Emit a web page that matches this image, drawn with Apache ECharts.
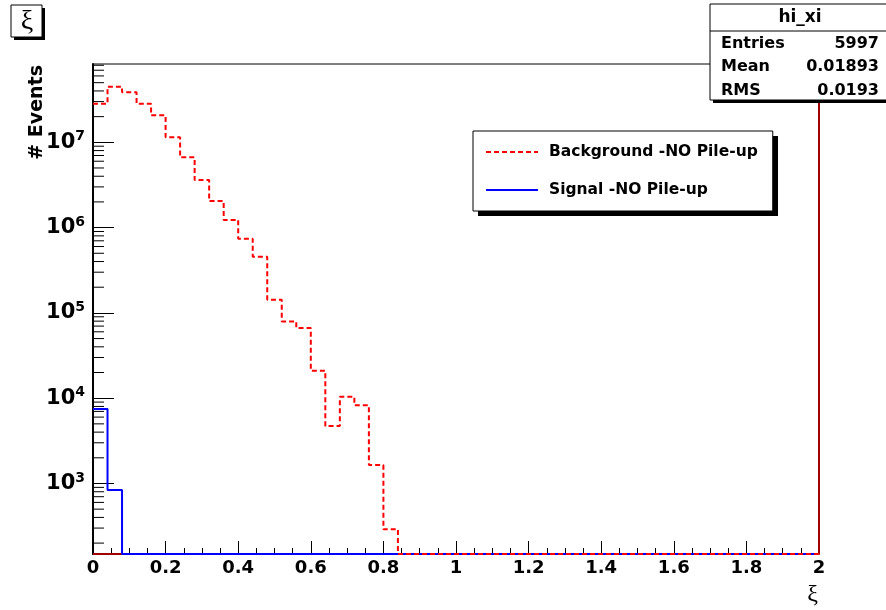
<!DOCTYPE html>
<html>
<head>
<meta charset="utf-8">
<script src="https://cdn.jsdelivr.net/npm/echarts@6/dist/echarts.min.js"></script>
<style>
html,body{margin:0;padding:0;background:#ffffff;}
#chart{width:886px;height:610px;}
</style>
</head>
<body>
<div id="chart"></div>
<script>
// ---- data ----
const BIN_LOW = 0;
const BIN_WIDTH = 0.04;
const N_BINS = 50;

// Background -NO Pile-up (red dashed), bin contents for bins 0..49
const backgroundValues = [
  2.83e7, 4.49e7, 3.85e7, 2.83e7, 2.07e7, 1.145e7, 6.67e6, 3.61e6, 2.05e6, 1.23e6,
  7.41e5, 4.56e5, 1.43e5, 7.93e4, 6.65e4, 2.10e4, 4.72e3, 1.04e4, 8.26e3, 1.65e3,
  290, 0, 0, 0, 0, 0, 0, 0, 0, 0,
  0, 0, 0, 0, 0, 0, 0, 0, 0, 0,
  0, 0, 0, 0, 0, 0, 0, 0, 0, 0
];
// Signal -NO Pile-up (blue)
const signalValues = [
  7460, 840, 0, 0, 0, 0, 0, 0, 0, 0,
  0, 0, 0, 0, 0, 0, 0, 0, 0, 0,
  0, 0, 0, 0, 0, 0, 0, 0, 0, 0,
  0, 0, 0, 0, 0, 0, 0, 0, 0, 0,
  0, 0, 0, 0, 0, 0, 0, 0, 0, 0
];
const seriesNames = ['Background -NO Pile-up', 'Signal -NO Pile-up'];
const statsLabels = ['Entries', 'Mean', 'RMS'];
const statsValues = ['5997', '0.01893', '0.0193'];
const statsTitle = 'hi_xi';
const histTitle = '\u03be';
const xTitle = '\u03be';
const yTitle = '# Events';

const X_MIN = 0, X_MAX = 2;
const Y_MIN = 149, Y_MAX = 8.28e7;

// ---- helpers ----
function stepData(vals) {
  const pts = [];
  for (let i = 0; i <= N_BINS; i++) {
    const v = vals[Math.min(i, N_BINS - 1)];
    pts.push([BIN_LOW + i * BIN_WIDTH, v > 0 ? v : Y_MIN]);
  }
  return pts;
}
// log-axis minor tick positions (2..9 x 10^n)
const minorTicks = [];
for (let n = 1; n <= 8; n++) {
  for (let k = 2; k <= 9; k++) {
    const v = k * Math.pow(10, n);
    if (v > Y_MIN && v < Y_MAX) minorTicks.push([0, v]);
  }
}

const FONT = '"DejaVu Sans", sans-serif';
const SERIF = '"Liberation Serif", "DejaVu Serif", serif';

function shadowBox(x, y, w, h, off, z) {
  return [
    {type: 'rect', z: z, silent: true, shape: {x: x + off, y: y + off, width: w, height: h},
     style: {fill: '#000', stroke: null}},
    {type: 'rect', z: z + 1, silent: true, shape: {x: x, y: y, width: w, height: h},
     style: {fill: '#fff', stroke: '#000', lineWidth: 1}}
  ];
}
function txt(text, x, y, align, font, z) {
  return {type: 'text', z: z || 110, silent: true, x: x, y: y,
          style: {text: text, align: align, verticalAlign: 'middle', font: font, fill: '#000'}};
}

const chart = echarts.init(document.getElementById('chart'), null, {renderer: 'canvas'});
const option = {
  animation: false,
  backgroundColor: '#ffffff',
  grid: {left: 93, right: 67, top: 64, bottom: 56, show: true, borderColor: '#000', borderWidth: 1},
  xAxis: {
    type: 'value', min: X_MIN, max: X_MAX, interval: 0.2,
    axisLine: {show: true, onZero: false, lineStyle: {color: '#000', width: 1}},
    axisTick: {show: true, inside: true, length: 13, lineStyle: {color: '#000', width: 1}},
    minorTick: {show: true, splitNumber: 4, length: 6, lineStyle: {color: '#000', width: 1}},
    splitLine: {show: false},
    axisLabel: {color: '#000', fontFamily: FONT, fontWeight: 'bold', fontSize: 18, margin: 5}
  },
  yAxis: {
    type: 'log', logBase: 10, min: Y_MIN, max: Y_MAX,
    axisLine: {show: true, lineStyle: {color: '#000', width: 2}},
    axisTick: {show: true, inside: true, length: 21, lineStyle: {color: '#000', width: 1}},
    splitLine: {show: false},
    axisLabel: {
      showMinLabel: false, showMaxLabel: false, margin: 8,
      formatter: function (v) { return '{b|10}{s|' + Math.round(Math.log10(v)) + '}'; },
      rich: {
        b: {fontFamily: FONT, fontWeight: 'bold', fontSize: 21, color: '#000'},
        s: {fontFamily: FONT, fontWeight: 'bold', fontSize: 14, color: '#000', padding: [0, 0, 11, 0]}
      }
    }
  },
  legend: {
    data: seriesNames,
    orient: 'vertical',
    left: 473, top: 131,
    padding: [13, 15, 13, 12],
    itemGap: 22, itemWidth: 52, itemHeight: 20,
    backgroundColor: '#fff', borderColor: '#000', borderWidth: 1,
    z: 20,
    selectedMode: false,
    itemStyle: {opacity: 0, borderWidth: 0},
    textStyle: {fontFamily: FONT, fontWeight: 'bold', fontSize: 15.5, color: '#000', padding: [0, 0, 0, 6]}
  },
  series: [
    {
      name: 'hi_xi', type: 'line', symbol: 'none', silent: true, z: 2,
      data: [[X_MIN, Y_MIN], [X_MAX, Y_MIN], [X_MAX, Y_MAX]],
      color: '#a00000',
      lineStyle: {color: '#a00000', width: 2}
    },
    {
      name: seriesNames[1], type: 'line', step: 'end', symbol: 'none', showSymbol: false, z: 3,
      data: stepData(signalValues),
      color: '#0000ff',
      lineStyle: {color: '#0000ff', width: 2}
    },
    {
      name: seriesNames[0], type: 'line', step: 'end', symbol: 'none', showSymbol: false, z: 4,
      data: stepData(backgroundValues),
      color: '#ff0000',
      lineStyle: {color: '#ff0000', width: 2, type: [5, 3]}
    },
    {
      name: 'minorTicks', type: 'custom', silent: true, z: 1,
      data: minorTicks,
      renderItem: function (params, api) {
        const p = api.coord([api.value(0), api.value(1)]);
        return {type: 'line', shape: {x1: p[0], y1: p[1], x2: p[0] + 11, y2: p[1]},
                style: {stroke: '#000', lineWidth: 1}};
      }
    }
  ],
  graphic: [].concat(
    // legend shadow (legend itself draws white box + border on top)
    [{type: 'rect', z: 10, silent: true, shape: {x: 478, y: 136, width: 300, height: 80}, style: {fill: '#000'}}],
    // histogram title box
    shadowBox(11, 5, 31, 32, 3, 100),
    [txt(histTitle, 27, 22, 'center', '28px ' + SERIF)],
    // y title
    [{type: 'text', z: 110, silent: true, x: 37, y: 65, rotation: Math.PI / 2,
      style: {text: yTitle, align: 'right', verticalAlign: 'middle', font: 'bold 19px ' + FONT, fill: '#000'}}],
    // x title
    [txt(xTitle, 818, 595, 'right', '24px ' + SERIF)],
    // stats box
    shadowBox(710, 4, 180, 96, 3, 100),
    [{type: 'line', z: 110, silent: true, shape: {x1: 710, y1: 31, x2: 890, y2: 31}, style: {stroke: '#000', lineWidth: 1}}],
    [txt(statsTitle, 800, 18, 'center', 'bold 17px ' + FONT)],
    [txt(statsLabels[0], 721, 44, 'left', 'bold 16px ' + FONT),
     txt(statsLabels[1], 721, 67, 'left', 'bold 16px ' + FONT),
     txt(statsLabels[2], 721, 91, 'left', 'bold 16px ' + FONT),
     txt(statsValues[0], 879, 44, 'right', 'bold 16px ' + FONT),
     txt(statsValues[1], 879, 67, 'right', 'bold 16px ' + FONT),
     txt(statsValues[2], 879, 91, 'right', 'bold 16px ' + FONT)]
  )
};
chart.setOption(option);
</script>
</body>
</html>
